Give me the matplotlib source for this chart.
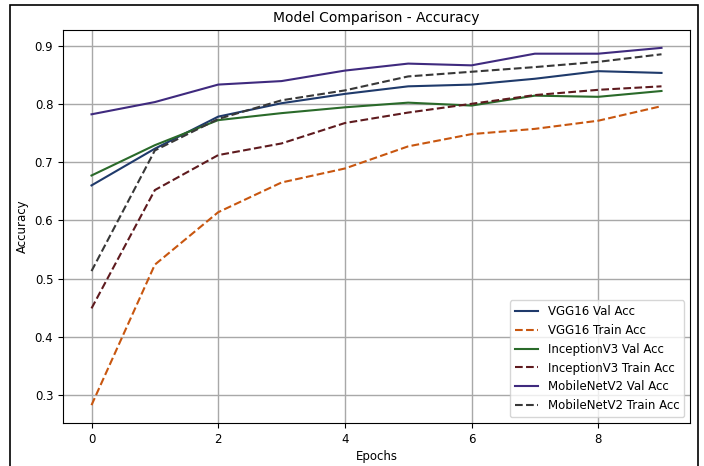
import matplotlib.pyplot as plt
from matplotlib.patches import Rectangle

# Epochs e acurácias
epochs = list(range(10))

vgg16_val = [0.660, 0.723, 0.778, 0.801, 0.817, 0.830, 0.833, 0.843, 0.856, 0.853]
vgg16_train = [0.283, 0.524, 0.614, 0.665, 0.689, 0.727, 0.748, 0.757, 0.771, 0.796]
inception_val = [0.677, 0.729, 0.772, 0.784, 0.794, 0.802, 0.797, 0.814, 0.812, 0.822]
inception_train = [0.449, 0.652, 0.712, 0.732, 0.767, 0.785, 0.800, 0.815, 0.824, 0.830]
mobilenet_val = [0.782, 0.803, 0.833, 0.839, 0.857, 0.869, 0.866, 0.886, 0.886, 0.896]
mobilenet_train = [0.513, 0.720, 0.774, 0.806, 0.823, 0.847, 0.855, 0.863, 0.872, 0.885]

series = [
    ("VGG16 Val Acc", vgg16_val, "-", "#1f3a6b"),
    ("VGG16 Train Acc", vgg16_train, "--", "#c8560f"),
    ("InceptionV3 Val Acc", inception_val, "-", "#2a6a2a"),
    ("InceptionV3 Train Acc", inception_train, "--", "#5e1a1e"),
    ("MobileNetV2 Val Acc", mobilenet_val, "-", "#3f2a7e"),
    ("MobileNetV2 Train Acc", mobilenet_train, "--", "#383838"),
]

fig = plt.figure(figsize=(7.04, 4.66), dpi=100)
ax = fig.add_axes([63 / 704, 43 / 466, 627 / 704, 393 / 466])

for label, values, ls, color in series:
    ax.plot(epochs, values, linestyle=ls, color=color, linewidth=1.5, label=label)

ax.set_title("Model Comparison - Accuracy", fontsize=10)
ax.set_xlabel("Epochs", fontsize=8.5, labelpad=3)
ax.set_ylabel("Accuracy", fontsize=8.5)
ax.tick_params(labelsize=8.5)
ax.grid(True, color="#a8a8a8", linewidth=1)
ax.legend(loc="lower right", fontsize=8.5)

# Moldura ao redor da figura (cortada na parte de baixo)
fig.patches.append(Rectangle((10 / 704, -0.02), 688 / 704, 461 / 466 + 0.02,
                             transform=fig.transFigure, fill=False,
                             edgecolor="black", linewidth=1.2))

plt.savefig("out.png", dpi=100)
plt.close()
